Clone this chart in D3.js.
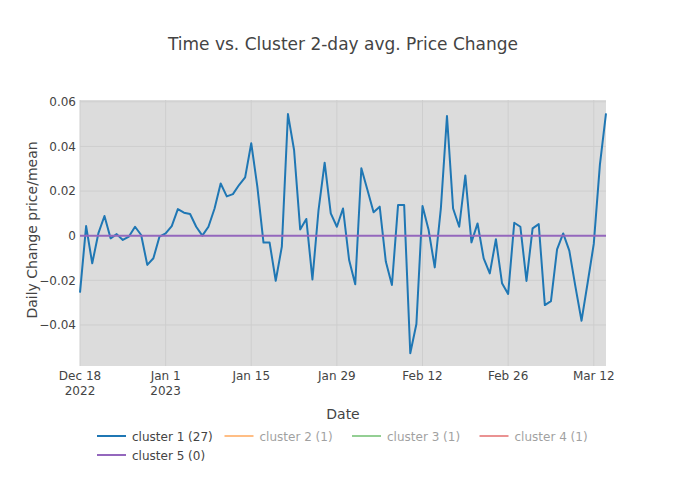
<!DOCTYPE html>
<html>
<head>
<meta charset="utf-8">
<script src="https://cdn.jsdelivr.net/npm/d3@7"></script>
<style>
  body { margin: 0; background: #fff; }
  svg { font-family: Verdana, "DejaVu Sans", sans-serif; }
</style>
</head>
<body>
<svg id="chart" width="686" height="480"></svg>
<script>
// first day of the series, one point per day
const startDate = "2022-12-18";

// cluster 1: daily change price/mean (2-day avg)
const cluster1 = [
  -0.0255, 0.0043, -0.0124, 0.0010, 0.0088, -0.0012, 0.0007, -0.0019, -0.0004, 0.0040,
  0.0003, -0.0131, -0.0101, -0.0004, 0.0010, 0.0043, 0.0119, 0.0103, 0.0097, 0.0040,
  0.0000, 0.0040, 0.0122, 0.0234, 0.0176, 0.0186, 0.0227, 0.0261, 0.0414, 0.0219,
  -0.0031, -0.0031, -0.0202, -0.0049, 0.0545, 0.0384, 0.0028, 0.0075, -0.0196, 0.0115,
  0.0327, 0.0100, 0.0040, 0.0122, -0.0109, -0.0218, 0.0302, 0.0205, 0.0105, 0.0130,
  -0.0116, -0.0221, 0.0137, 0.0137, -0.0527, -0.0396, 0.0133, 0.0025, -0.0142, 0.0122,
  0.0536, 0.0122, 0.0040, 0.0270, -0.0030, 0.0055, -0.0102, -0.0169, -0.0016, -0.0213,
  -0.0261, 0.0058, 0.0040, -0.0203, 0.0033, 0.0052, -0.0311, -0.0293, -0.0061, 0.0010,
  -0.0067, -0.0228, -0.0381, -0.0211, -0.0037, 0.0317, 0.0548
];

// cluster 5: flat at zero
const cluster5 = [
  0, 0, 0, 0, 0, 0, 0, 0, 0, 0, 0, 0, 0, 0, 0, 0, 0, 0, 0, 0,
  0, 0, 0, 0, 0, 0, 0, 0, 0, 0, 0, 0, 0, 0, 0, 0, 0, 0, 0, 0,
  0, 0, 0, 0, 0, 0, 0, 0, 0, 0, 0, 0, 0, 0, 0, 0, 0, 0, 0, 0,
  0, 0, 0, 0, 0, 0, 0, 0, 0, 0, 0, 0, 0, 0, 0, 0, 0, 0, 0, 0,
  0, 0, 0, 0, 0, 0, 0
];

// legend entries (hidden ones are legend-only)
const legendNames = ["cluster 1 (27)", "cluster 2 (1)", "cluster 3 (1)", "cluster 4 (1)", "cluster 5 (0)"];
const legendColors = ["#1f77b4", "#ff7f0e", "#2ca02c", "#d62728", "#9467bd"];
const legendVisible = [true, false, false, false, true];

// axis ticks
const yTicks = [-0.04, -0.02, 0, 0.02, 0.04, 0.06];
const xTickDates = ["2022-12-18", "2023-01-01", "2023-01-15", "2023-01-29", "2023-02-12", "2023-02-26", "2023-03-12"];
const xTickLabels = [["Dec 18", "2022"], ["Jan 1", "2023"], ["Jan 15"], ["Jan 29"], ["Feb 12"], ["Feb 26"], ["Mar 12"]];

const svg = d3.select("#chart");
const margin = { top: 100, right: 80, bottom: 114, left: 80 };
const width = 686 - margin.left - margin.right;
const height = 480 - margin.top - margin.bottom;

// dates for every point
const parse = d3.utcParse("%Y-%m-%d");
const dates = cluster1.map((d, i) => d3.utcDay.offset(parse(startDate), i));

const x = d3.scaleUtc().domain(d3.extent(dates)).range([0, width]);
const y = d3.scaleLinear().domain([-0.0584, 0.0608]).range([height, 0]);

const g = svg.append("g").attr("transform", `translate(${margin.left},${margin.top})`);

// plot background
g.append("rect").attr("width", width).attr("height", height).attr("fill", "#dcdcdc");

// grid lines
g.append("g").selectAll("line").data(xTickDates.map(parse)).enter().append("line")
  .attr("x1", d => x(d)).attr("x2", d => x(d)).attr("y1", 0).attr("y2", height)
  .attr("stroke", "#cecece").attr("stroke-width", 1);
g.append("g").selectAll("line").data(yTicks).enter().append("line")
  .attr("x1", 0).attr("x2", width).attr("y1", d => y(d)).attr("y2", d => y(d))
  .attr("stroke", "#cecece").attr("stroke-width", 1);

// y axis labels
const yAxis = g.append("g").call(d3.axisLeft(y).tickValues(yTicks).tickSize(0).tickPadding(4)
  .tickFormat(d => d === 0 ? "0" : d3.format(".2f")(d).replace("-", "\u2212")));
yAxis.select(".domain").remove();
yAxis.selectAll("text").attr("font-size", 12).attr("fill", "#444").attr("font-family", "Verdana, 'DejaVu Sans', sans-serif");

// x axis labels (two lines for year changes)
const xLab = g.append("g").selectAll("text").data(xTickDates).enter().append("text")
  .attr("x", d => x(parse(d))).attr("y", height + 5)
  .attr("text-anchor", "middle").attr("font-size", 12).attr("fill", "#444");
xLab.each(function(d, i) {
  const t = d3.select(this);
  xTickLabels[i].forEach((s, k) => {
    t.append("tspan").attr("x", x(parse(d))).attr("dy", k === 0 ? "0.71em" : "1.3em").text(s);
  });
});

// lines
const line = d3.line().x((d, i) => x(dates[i])).y(d => y(d));
const plot = g.append("g");
plot.append("path").datum(cluster1).attr("d", line)
  .attr("fill", "none").attr("stroke", legendColors[0]).attr("stroke-width", 2).attr("stroke-linejoin", "round");
plot.append("path").datum(cluster5).attr("d", line)
  .attr("fill", "none").attr("stroke", legendColors[4]).attr("stroke-width", 2);

// axis titles
g.append("text").attr("x", width / 2).attr("y", height + 53).attr("text-anchor", "middle")
  .attr("font-size", 14).attr("fill", "#444").text("Date");
g.append("text").attr("transform", "rotate(-90)").attr("x", -height / 2 + 3).attr("y", -43)
  .attr("text-anchor", "middle").attr("font-size", 14).attr("fill", "#444").text("Daily Change price/mean");

// title
svg.append("text").attr("x", 343).attr("y", 50).attr("text-anchor", "middle")
  .attr("font-size", 17).attr("fill", "#444").text("Time vs. Cluster 2-day avg. Price Change");

// legend
const legend = svg.append("g").attr("transform", "translate(97,436)");
const item = legend.selectAll("g").data(legendNames).enter().append("g")
  .attr("transform", (d, i) => `translate(${(i % 4) * 127.5},${Math.floor(i / 4) * 19})`)
  .attr("opacity", (d, i) => legendVisible[i] ? 1 : 0.5);
item.append("line").attr("x1", 0).attr("x2", 29).attr("y1", 0).attr("y2", 0)
  .attr("stroke", (d, i) => legendColors[i]).attr("stroke-width", 2);
item.append("text").attr("x", 35).attr("y", 4.5).attr("font-size", 12).attr("fill", "#444").text(d => d);
</script>
</body>
</html>
